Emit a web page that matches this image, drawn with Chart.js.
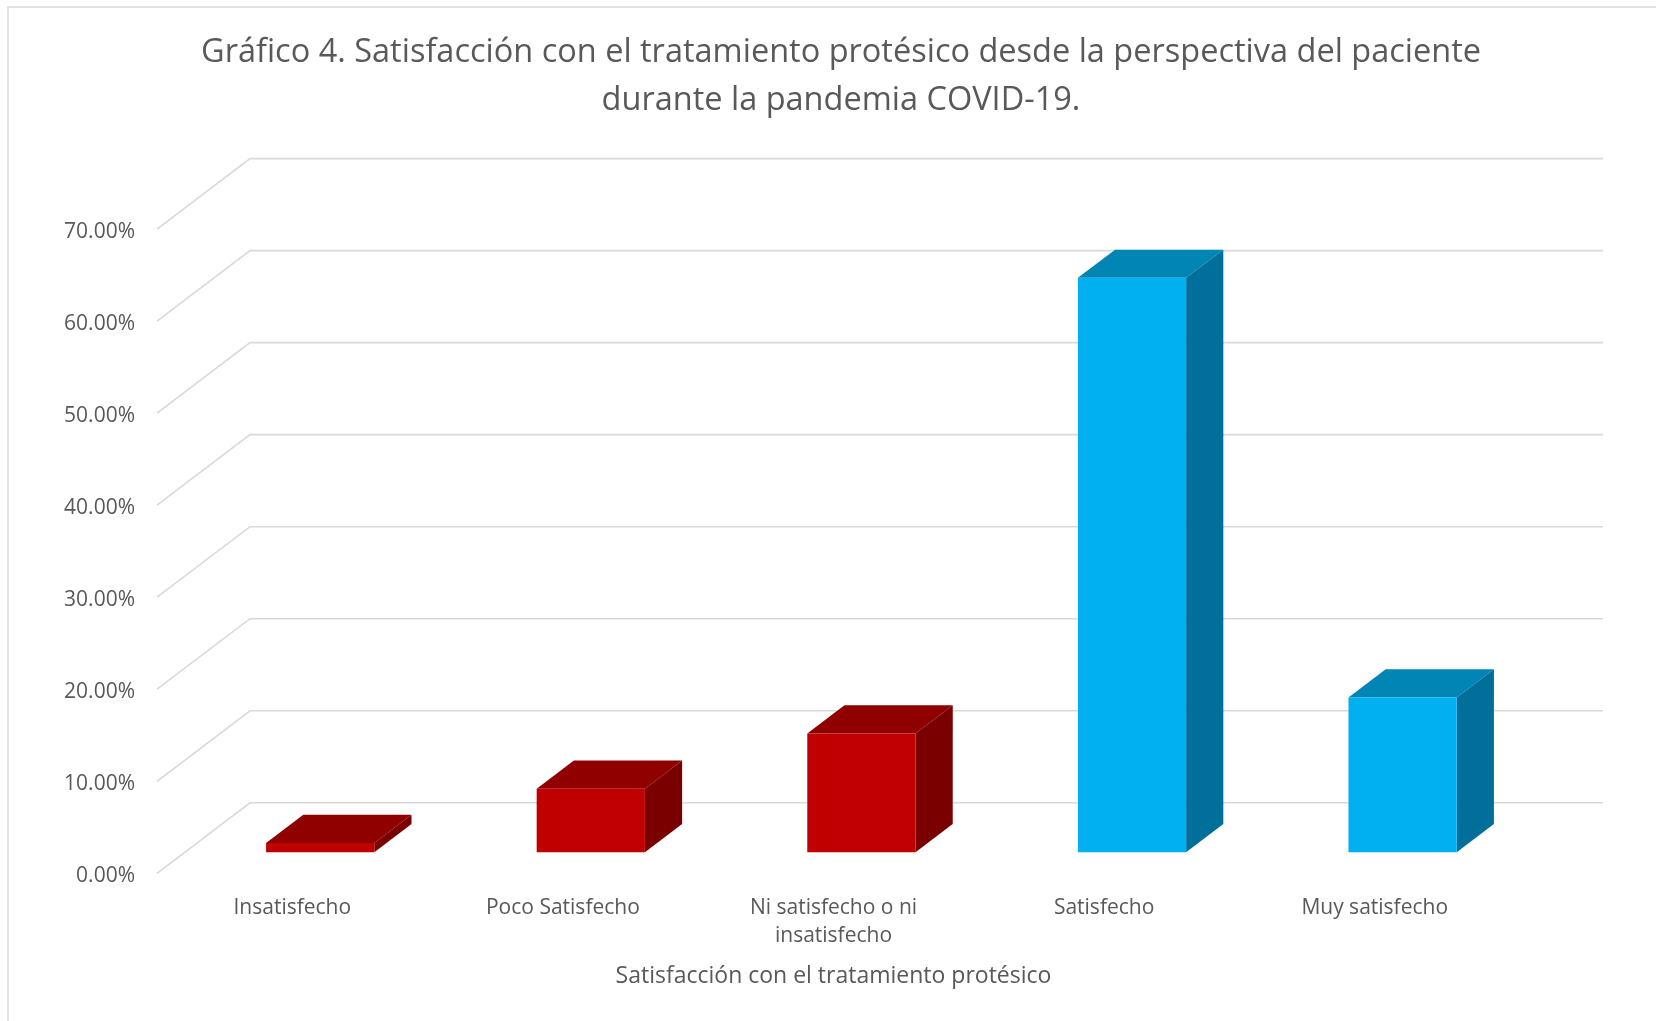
<!DOCTYPE html>
<html>
<head>
<meta charset="utf-8">
<script src="https://cdn.jsdelivr.net/npm/chart.js@4.4.1/dist/chart.umd.min.js"></script>
<style>
  html, body { margin: 0; padding: 0; background: #fff; }
  #wrap { width: 1656px; height: 1021px; position: relative; }
</style>
</head>
<body>
<div id="wrap"><canvas id="satisfaccion-chart"></canvas></div>
<script>
const CATEGORIES = [
    'Insatisfecho',
    'Poco Satisfecho',
    ['Ni satisfecho o ni', 'insatisfecho'],
    'Satisfecho',
    'Muy satisfecho'
]
const PERCENTAGES = [1.0, 6.9, 12.9, 62.4, 16.8]
const Y_TICKS = [0, 10, 20, 30, 40, 50, 60, 70]

const TITLE_LINES = [
    'Gráfico 4. Satisfacción con el tratamiento protésico desde la perspectiva del paciente',
    'durante la pandemia COVID-19.'
]
const X_TITLE = 'Satisfacción con el tratamiento protésico'

const TEXT = '#595959'
const GRID = '#D9D9D9'
const RED = {front: '#C00000', top: '#900000', side: '#7A0000'}
const BLUE = {front: '#00B0F0', top: '#0085B5', side: '#006F99'}
const BAR_COLORS = [RED, RED, RED, BLUE, BLUE]

// oblique depth of the floor, from front edge to back wall (px)
const DEPTH_X = 93
const DEPTH_Y = -70.5
const BAR_FRONT = 0.3
const BAR_BACK = 0.7

function poly(ctx, pts, color) {
    ctx.beginPath()
    ctx.moveTo(pts[0][0], pts[0][1])
    for (let i = 1; i < pts.length; i++) ctx.lineTo(pts[i][0], pts[i][1])
    ctx.closePath()
    ctx.fillStyle = color
    ctx.fill()
}

const frame3d = {
    id: 'frame3d',
    beforeDraw(chart) {
        const ctx = chart.ctx
        const area = chart.chartArea
        const y = chart.scales.y
        ctx.save()
        ctx.fillStyle = '#fff'
        ctx.fillRect(0, 0, chart.width, chart.height)
        // outer chart border (only left and top are visible)
        ctx.strokeStyle = GRID
        ctx.lineWidth = 1.5
        ctx.beginPath()
        ctx.moveTo(8, chart.height)
        ctx.lineTo(8, 7)
        ctx.lineTo(chart.width, 7)
        ctx.stroke()
        // gridlines: side wall diagonal + back wall horizontal
        ctx.lineWidth = 1.6
        Y_TICKS.forEach(v => {
            const py = y.getPixelForValue(v)
            ctx.beginPath()
            ctx.moveTo(area.left, py)
            ctx.lineTo(area.left + DEPTH_X, py + DEPTH_Y)
            ctx.lineTo(area.right + DEPTH_X, py + DEPTH_Y)
            ctx.stroke()
        })
        ctx.restore()
    },
    beforeDatasetDraw() {
        return false
    },
    afterDatasetsDraw(chart) {
        const ctx = chart.ctx
        const meta = chart.getDatasetMeta(0)
        const fx = DEPTH_X * BAR_FRONT, fy = DEPTH_Y * BAR_FRONT
        const dx = DEPTH_X * (BAR_BACK - BAR_FRONT), dy = DEPTH_Y * (BAR_BACK - BAR_FRONT)
        ctx.save()
        meta.data.forEach((bar, i) => {
            const c = BAR_COLORS[i]
            const x0 = bar.x - bar.width / 2 + fx
            const x1 = bar.x + bar.width / 2 + fx
            const top = bar.y + fy
            const bot = bar.base + fy
            poly(ctx, [[x0, top], [x1, top], [x1 + dx, top + dy], [x0 + dx, top + dy]], c.top)
            poly(ctx, [[x1, top], [x1 + dx, top + dy], [x1 + dx, bot + dy], [x1, bot]], c.side)
            poly(ctx, [[x0, top], [x1, top], [x1, bot], [x0, bot]], c.front)
        })
        ctx.restore()
    }
}

new Chart(document.getElementById('satisfaccion-chart').getContext('2d'), {
    type: 'bar',
    data: {
        labels: CATEGORIES,
        datasets: [{
            data: PERCENTAGES,
            backgroundColor: BAR_COLORS.map(c => c.front),
            categoryPercentage: 1,
            barPercentage: 0.4,
        }]
    },
    options: {
        responsive: true,
        maintainAspectRatio: false,
        animation: false,
        layout: {
            padding: {left: 30, right: 4, top: 0, bottom: 0}
        },
        scales: {
            x: {
                grid: {display: false, drawTicks: false},
                border: {display: false},
                ticks: {
                    color: TEXT,
                    padding: 20,
                    font: {family: 'Open Sans', size: 21, lineHeight: 1.36},
                    maxRotation: 0,
                    autoSkip: false,
                },
                title: {
                    display: true,
                    text: X_TITLE,
                    color: TEXT,
                    font: {family: 'Open Sans', size: 23, lineHeight: 1.2},
                    padding: {top: 31, bottom: 31},
                },
                afterFit(scale) {
                    scale.height = 147.7
                }
            },
            y: {
                min: 0,
                max: 70,
                grid: {display: false, drawTicks: false},
                border: {display: false},
                ticks: {
                    stepSize: 10,
                    color: TEXT,
                    padding: 22,
                    labelOffset: 3,
                    font: {family: 'Open Sans', size: 21},
                    callback: function (value) {
                        return value.toFixed(2) + '%'
                    }
                },
                afterFit(scale) {
                    scale.width = 127
                }
            },
            // empty right-hand space so the title centres like the original
            spacer: {
                type: 'linear',
                position: 'right',
                grid: {display: false, drawTicks: false},
                border: {display: false},
                ticks: {display: false},
                afterFit(scale) {
                    scale.width = 142
                }
            }
        },
        plugins: {
            legend: {display: false},
            tooltip: {enabled: false},
            title: {
                display: true,
                text: TITLE_LINES,
                color: TEXT,
                font: {family: 'Open Sans', size: 32.5, weight: 'normal', lineHeight: 1.455},
                padding: {top: 29.5, bottom: 105},
            }
        }
    },
    plugins: [frame3d]
})
</script>
</body>
</html>
